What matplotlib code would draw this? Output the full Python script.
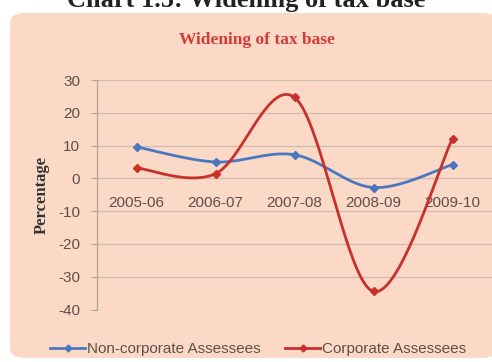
import numpy as np
import matplotlib
matplotlib.use("Agg")
import matplotlib.pyplot as plt
from matplotlib.patches import FancyBboxPatch
from matplotlib.lines import Line2D

# Year-wise growth in number of assessees (%)
years = ["2005-06", "2006-07", "2007-08", "2008-09", "2009-10"]
non_corporate = [9.6, 5.0, 7.2, -2.8, 4.2]
corporate = [3.2, 1.4, 24.7, -34.5, 12.1]
y_ticks = [30, 20, 10, 0, -10, -20, -30, -40]

BLUE = "#4A78C0"
RED = "#C8302C"
PEACH = "#FBD9C6"
GREY = "#5E5048"


def smooth(xs, ys, n=40):
    # Bezier smoothing between points, control points from neighbours
    xs = np.asarray(xs, float)
    ys = np.asarray(ys, float)
    px = np.concatenate([[xs[0]], xs, [xs[-1]]])
    py = np.concatenate([[ys[0]], ys, [ys[-1]]])
    ox, oy = [], []
    t = np.linspace(0, 1, n)
    for i in range(1, len(px) - 2):
        p0 = np.array([px[i], py[i]])
        p3 = np.array([px[i + 1], py[i + 1]])
        c1 = p0 + (np.array([px[i + 1], py[i + 1]]) - np.array([px[i - 1], py[i - 1]])) / 6
        c2 = p3 - (np.array([px[i + 2], py[i + 2]]) - np.array([px[i], py[i]])) / 6
        b = ((1 - t) ** 3)[:, None] * p0 + (3 * (1 - t) ** 2 * t)[:, None] * c1 \
            + (3 * (1 - t) * t ** 2)[:, None] * c2 + (t ** 3)[:, None] * p3
        ox.extend(b[:, 0])
        oy.extend(b[:, 1])
    return ox, oy


fig = plt.figure(figsize=(4.92, 3.62), dpi=100)
fig.patch.set_facecolor("white")

# rounded chart panel, kept behind the axes
panel = FancyBboxPatch((10 / 492, 4 / 362), 0.99, 1 - 13 / 362 - 4 / 362,
                       boxstyle="round,pad=0,rounding_size=0.03",
                       transform=fig.transFigure, facecolor=PEACH,
                       edgecolor="none", zorder=-5)
fig.patches.append(panel)

fig.text(0.5, 1 - 7 / 362, "Chart 1.5: Widening of tax base", ha="center",
         va="baseline", fontsize=19, fontweight="bold", family="Liberation Serif",
         color="#222222")
fig.text(257 / 492, 1 - 40 / 362, "Widening of tax base", ha="center",
         va="center", fontsize=12.5, fontweight="bold", family="Liberation Serif",
         color="#D63A36")

ax = fig.add_axes([97 / 492, 1 - 309.5 / 362, 395 / 492, 229.5 / 362])
ax.set_zorder(2)
ax.set_facecolor("none")
x = np.arange(len(years))
ax.set_xlim(-0.5, len(years) - 0.5)
ax.set_ylim(-40, 30)

for v in y_ticks:
    ax.axhline(v, color="#CDBBB0", lw=0.9, zorder=1)

for s in ["top", "right", "bottom"]:
    ax.spines[s].set_visible(False)
ax.spines["left"].set_color("#B3A297")
ax.spines["left"].set_linewidth(0.9)

ax.set_yticks(y_ticks)
ax.set_yticklabels([str(v) for v in y_ticks])
ax.tick_params(axis="y", length=4, color="#B3A297", labelsize=11,
               labelcolor=GREY, pad=8)
for lab in ax.get_yticklabels():
    lab.set_family("Liberation Sans")
ax.set_xticks([])

# category labels sit just below the zero line
for xi, lab in zip(x, years):
    ax.text(xi, -7.5, lab, ha="center", va="center", fontsize=11,
            family="Liberation Sans", color=GREY, zorder=2)

ax.set_ylabel("Percentage", fontsize=12, fontweight="bold",
              family="Liberation Serif", color="#333333", labelpad=6)

for vals, col in [(non_corporate, BLUE), (corporate, RED)]:
    sx, sy = smooth(x, vals)
    ax.plot(sx, sy, color=col, lw=2, zorder=3, solid_capstyle="round")
    ax.plot(x, vals, ls="none", marker="D", ms=4, color=col, zorder=4)

handles = [Line2D([], [], color=BLUE, lw=2, marker="D", ms=3.5),
           Line2D([], [], color=RED, lw=2, marker="D", ms=3.5)]
fig.legend(handles, ["Non-corporate Assessees", "Corporate Assessees"],
           loc="center", bbox_to_anchor=(258 / 492, 1 - 349 / 362), ncol=2,
           frameon=False, handlelength=2.3, handletextpad=0.1,
           columnspacing=1.6,
           prop={"family": "Liberation Sans", "size": 11},
           labelcolor=GREY)

fig.savefig("out.png", dpi=100, facecolor=fig.get_facecolor())
